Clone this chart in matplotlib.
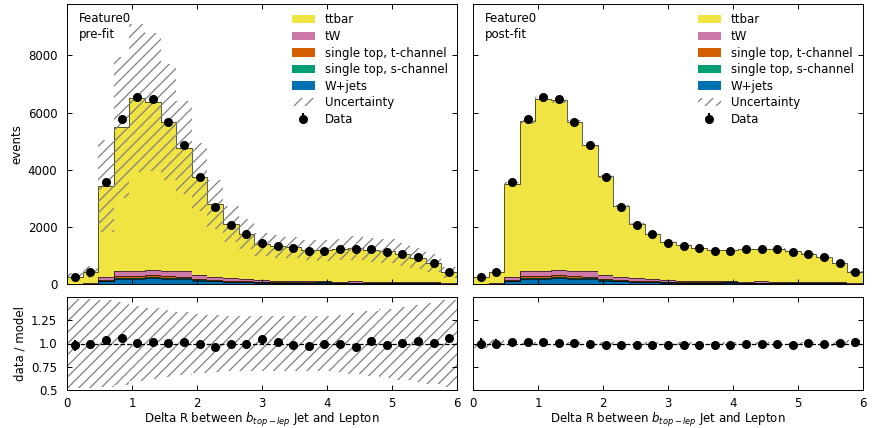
import numpy as np
import matplotlib
matplotlib.use("Agg")
import matplotlib.pyplot as plt

# ---------------- data ----------------
x_min, x_max, n_bins = 0.0, 6.0, 25

data = [256, 432, 3554, 5778, 6550, 6491, 5684, 4853, 3730, 2690, 2082, 1743,
        1450, 1333, 1255, 1160, 1170, 1210, 1212, 1232, 1134, 1053, 930, 728, 430]

# pre-fit model components
wjets = [5, 8, 90, 190, 190, 220, 185, 180, 120, 95, 80, 65,
         50, 40, 35, 45, 50, 30, 35, 30, 28, 30, 25, 22, 10]
s_chan = [0, 1, 10, 15, 15, 20, 15, 15, 10, 8, 7, 6,
          5, 4, 4, 4, 4, 3, 3, 3, 3, 3, 2, 2, 1]
t_chan = [2, 3, 40, 60, 60, 70, 65, 60, 45, 35, 28, 24,
          20, 18, 16, 15, 15, 12, 12, 11, 10, 10, 9, 8, 4]
tw = [5, 8, 100, 175, 175, 185, 200, 205, 140, 115, 95, 80,
      65, 55, 50, 45, 45, 40, 40, 38, 35, 33, 30, 25, 12]
ttbar_pre = [249, 416, 3191, 5042, 6065, 5863, 5196, 4307, 3430, 2537, 1880, 1575,
             1246, 1201, 1173, 1081, 1061, 1130, 1176, 1115, 1071, 966, 838, 666, 381]
ttbar_post = [244, 414, 3265, 5258, 6020, 5951, 5196, 4412, 3456, 2486, 1895, 1587,
              1337, 1240, 1164, 1072, 1069, 1138, 1135, 1155, 1071, 973, 868, 668, 397]

# relative model uncertainty per bin
unc_pre = [0.48, 0.48, 0.47, 0.45, 0.40, 0.38, 0.36, 0.34, 0.32, 0.31, 0.30, 0.30,
           0.30, 0.30, 0.30, 0.30, 0.30, 0.31, 0.33, 0.35, 0.37, 0.39, 0.41, 0.44, 0.47]
unc_post = [0.05, 0.05, 0.02, 0.015, 0.015, 0.015, 0.015, 0.015, 0.015, 0.015, 0.015, 0.015,
            0.015, 0.015, 0.015, 0.015, 0.015, 0.015, 0.015, 0.015, 0.02, 0.02, 0.025, 0.03, 0.04]

sample_names = ["W+jets", "single top, s-channel", "single top, t-channel", "tW", "ttbar"]
sample_colors = ["#0072B2", "#009E73", "#D55E00", "#CC79A7", "#F0E442"]

x_label = "Delta R between $b_{top-lep}$ Jet and Lepton"
region = "Feature0"

# ---------------- plotting ----------------
plt.rcParams["font.family"] = ["DejaVu Sans"]
plt.rcParams["hatch.linewidth"] = 0.9
FS = 8.5

edges = np.linspace(x_min, x_max, n_bins + 1)
centers = 0.5 * (edges[:-1] + edges[1:])
width = edges[1] - edges[0]
data_arr = np.array(data, dtype=float)

fig = plt.figure(figsize=(8.77, 4.28), dpi=100)
W = 0.4447
axes_pos = {
    "tl": [67 / 877, 1 - 284 / 428, W, (284 - 4) / 428],
    "bl": [67 / 877, 1 - 390 / 428, W, (390 - 297) / 428],
    "tr": [473 / 877, 1 - 284 / 428, W, (284 - 4) / 428],
    "br": [473 / 877, 1 - 390 / 428, W, (390 - 297) / 428],
}


def style(ax):
    ax.tick_params(direction="in", top=True, right=True, which="both",
                   pad=7, labelsize=FS, length=3.5, width=0.7)
    for s in ax.spines.values():
        s.set_linewidth(0.7)


def draw(ax_top, ax_bot, comps, unc_rel, label, show_ylabels):
    total = np.zeros(n_bins)
    handles = []
    for name, vals, col in zip(sample_names, comps, sample_colors):
        vals = np.array(vals, dtype=float)
        h = ax_top.bar(centers, vals, width=width, bottom=total, color=col,
                       linewidth=0, label=name)
        handles.append(h)
        top = total + vals
        ax_top.stairs(top, edges, baseline=None, color="black", linewidth=0.45)
        total = top
    unc = total * np.array(unc_rel)
    h_unc = ax_top.bar(centers, 2 * unc, width=width, bottom=total - unc, fill=False,
                       linewidth=0, edgecolor="gray", hatch="///", label="Uncertainty")
    h_data = ax_top.errorbar(centers, data_arr, yerr=np.sqrt(data_arr), fmt="o",
                             color="k", ms=5.5, label="Data")
    leg_h = handles[::-1] + [h_unc, h_data]
    leg_l = sample_names[::-1] + ["Uncertainty", "Data"]
    ax_top.legend(leg_h, leg_l, frameon=False, fontsize=FS, loc="upper right",
                  labelspacing=0.3, borderaxespad=0.4)
    ax_top.text(0.03, 0.97, f"{region}\n{label}", transform=ax_top.transAxes,
                va="top", ha="left", fontsize=FS, linespacing=1.25)
    ax_top.set_xlim(x_min, x_max)
    ax_top.set_ylim(0, 9800)
    ax_top.set_yticks([0, 2000, 4000, 6000, 8000])
    style(ax_top)
    ax_top.tick_params(labelbottom=False)

    ax_bot.bar(centers, 2 * np.array(unc_rel), width=width, bottom=1 - np.array(unc_rel),
               fill=False, linewidth=0, edgecolor="gray", hatch="///")
    ax_bot.plot([x_min, x_max], [1, 1], "--", color="black", linewidth=0.9)
    ax_bot.errorbar(centers, data_arr / total, yerr=np.sqrt(data_arr) / total,
                    fmt="o", color="k", ms=5.5)
    ax_bot.set_xlim(x_min, x_max)
    ax_bot.set_ylim(0.5, 1.5)
    ax_bot.set_yticks([0.5, 0.75, 1.0, 1.25])
    ax_bot.set_yticklabels(["0.5", "0.75", "1.0", "1.25"])
    ax_bot.set_xlabel(x_label, fontsize=FS, labelpad=0.5)
    style(ax_bot)
    ax_bot.tick_params(axis="x", pad=5)
    if show_ylabels:
        ax_top.set_ylabel("events", fontsize=FS, labelpad=3)
        ax_bot.set_ylabel("data / model", fontsize=FS, labelpad=3)
    else:
        ax_top.tick_params(labelleft=False)
        ax_bot.tick_params(labelleft=False)


ax_tl = fig.add_axes(axes_pos["tl"])
ax_bl = fig.add_axes(axes_pos["bl"])
ax_tr = fig.add_axes(axes_pos["tr"])
ax_br = fig.add_axes(axes_pos["br"])

draw(ax_tl, ax_bl, [wjets, s_chan, t_chan, tw, ttbar_pre], unc_pre, "pre-fit", True)
draw(ax_tr, ax_br, [wjets, s_chan, t_chan, tw, ttbar_post], unc_post, "post-fit", False)

fig.savefig("out.png", dpi=100)
